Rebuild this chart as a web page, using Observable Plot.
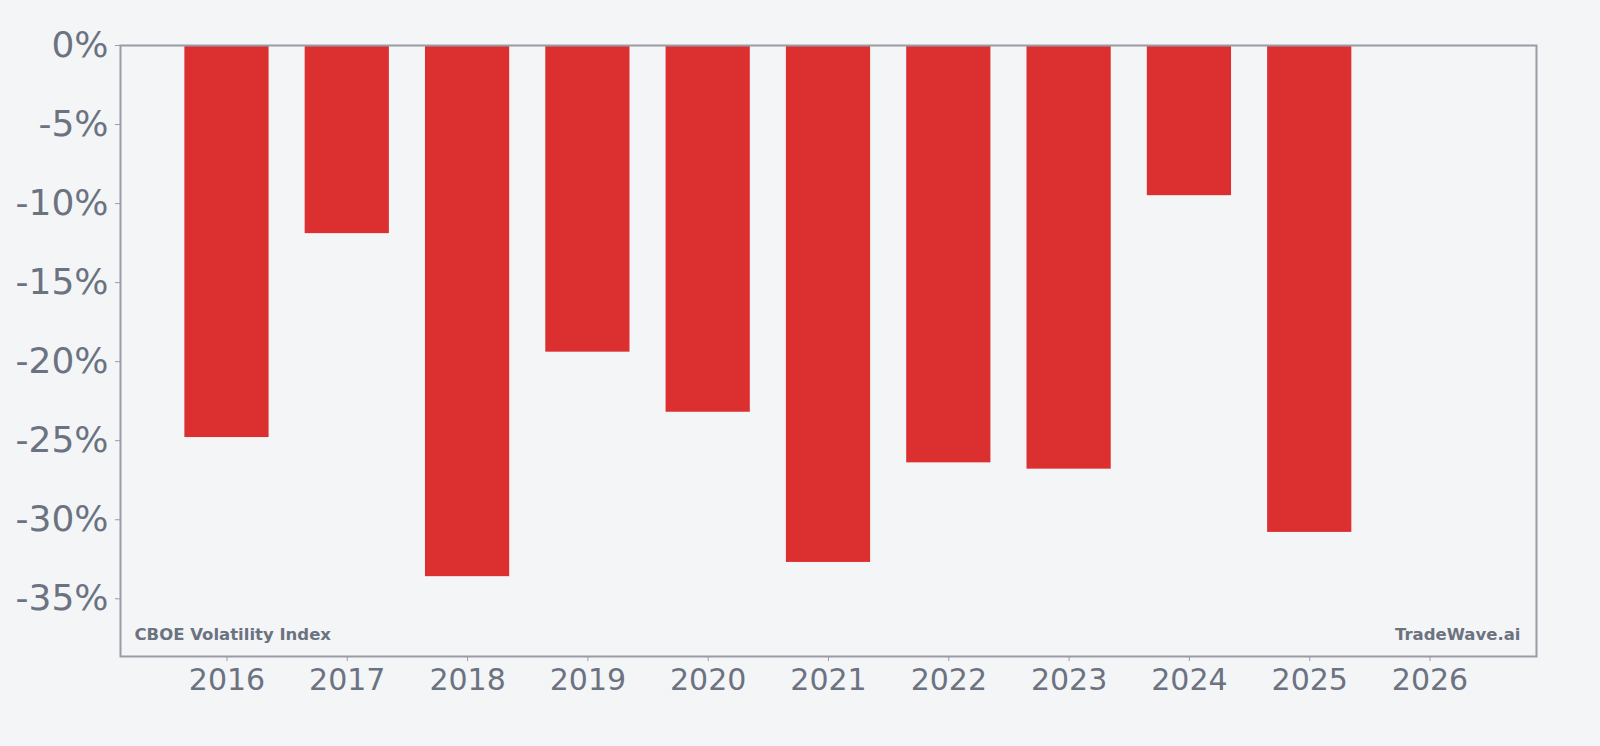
<!DOCTYPE html>
<html>
<head>
<meta charset="utf-8">
<script src="https://cdn.jsdelivr.net/npm/d3@7"></script>
<script src="https://cdn.jsdelivr.net/npm/@observablehq/plot@0.6"></script>
<style>
  html, body { margin: 0; padding: 0; background: #f4f5f7; }
  #chart svg { display: block; }
</style>
</head>
<body>
<div id="chart"></div>
<script>
const years = [2016, 2017, 2018, 2019, 2020, 2021, 2022, 2023, 2024, 2025];
const returns = [-24.8, -11.9, -33.6, -19.4, -23.2, -32.7, -26.4, -26.8, -9.5, -30.8];
const xTickYears = [2016, 2017, 2018, 2019, 2020, 2021, 2022, 2023, 2024, 2025, 2026];
const yTicks = [0, -5, -10, -15, -20, -25, -30, -35];
const seriesName = "CBOE Volatility Index";
const brand = "TradeWave.ai";

const data = years.map((y, i) => ({year: y, value: returns[i]}));
const textColor = "#6b7280";
const frameColor = "#9a9ba6";

const chart = Plot.plot({
  width: 1600,
  height: 746,
  marginLeft: 120,
  marginRight: 64,
  marginTop: 45,
  marginBottom: 90,
  style: {background: "#f4f5f7", fontFamily: "DejaVu Sans", color: textColor},
  x: {
    type: "band",
    domain: xTickYears,
    paddingInner: 0.3,
    paddingOuter: 0.535,
    round: false,
    label: null
  },
  y: {
    domain: [-38.65, 0],
    label: null
  },
  marks: [
    Plot.barY(data, {x: "year", y1: 0, y2: "value", fill: "#dc3030"}),
    Plot.frame({stroke: frameColor, strokeWidth: 2}),
    Plot.axisY({
      ticks: yTicks,
      tickFormat: d => (d < 0 ? "-" + Math.abs(d) : String(d)) + "%",
      tickSize: 5,
      tickPadding: 7,
      fontSize: 36,
      stroke: frameColor,
      color: textColor,
      label: null
    }),
    Plot.axisX({
      ticks: xTickYears,
      tickFormat: d => String(d),
      tickSize: 5,
      tickPadding: 7,
      fontSize: 30,
      stroke: frameColor,
      color: textColor,
      label: null
    }),
    Plot.text([seriesName], {
      text: d => d,
      frameAnchor: "bottom-left",
      dx: 14,
      dy: -17,
      fontSize: 16.5,
      fontWeight: "bold",
      fill: textColor
    }),
    Plot.text([brand], {
      text: d => d,
      frameAnchor: "bottom-right",
      dx: -16,
      dy: -17,
      fontSize: 16.5,
      fontWeight: "bold",
      fill: textColor
    })
  ]
});
document.getElementById("chart").appendChild(chart);
</script>
</body>
</html>
